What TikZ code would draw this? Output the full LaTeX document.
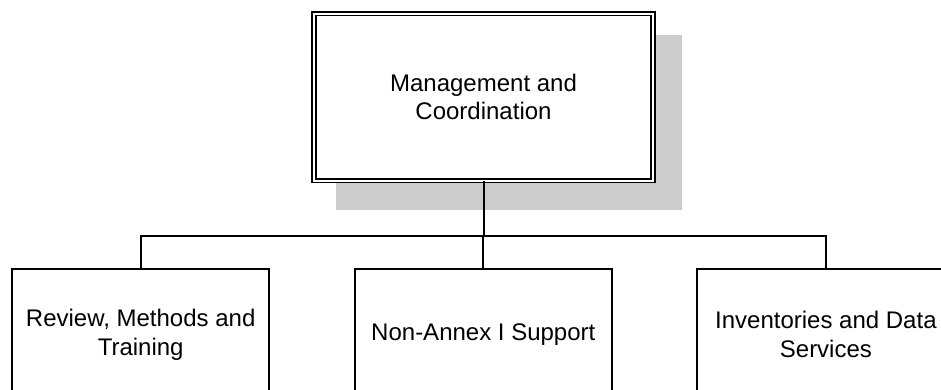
\documentclass[tikz,border=0pt]{standalone}
\usepackage{fontspec}
\setmainfont{Liberation Sans}
\usetikzlibrary{calc,backgrounds}
\begin{document}
\begin{tikzpicture}[x=1pt,y=-1pt,
  lbl/.style={font=\fontsize{24}{28.8}\selectfont, align=center},
  unitbox/.style={lbl, draw, line width=2pt, fill=white, inner sep=0pt,
    minimum width=257pt, minimum height=131pt},
  headbox/.style={lbl, draw, line width=1.8pt, double, double distance=2pt,
    fill=white, inner sep=0pt, minimum width=339pt, minimum height=167pt},
  shade/.style={fill=black!20, draw=none},
  link/.style={line width=2pt}]
\useasboundingbox (0,0) rectangle (941,389);
\clip (0,0) rectangle (941,389);

% head unit, with its offset shadow behind it
\node[headbox] (head) at (483.5,97) {Management and\\Coordination};
\begin{scope}[on background layer]
  \fill[shade] ($(head.north west)+(23,22.5)$) rectangle ($(head.south east)+(28.5,29)$);
\end{scope}

% the three units below
\node[unitbox] (rmt) at (140.7,334.5) {Review, Methods and\\Training};
\node[unitbox] (nas) at (483.3,334.5) {Non-Annex I Support};
\node[unitbox] (ids) at (825.9,334.5) {Inventories and Data\\Services};

% branching connectors
\coordinate (bus) at (head.south |- 0,235.7);
\draw[link] (head.south) -- (bus);
\draw[link] (rmt.north) |- (bus) -| (ids.north);
\draw[link] (bus -| nas.north) -- (nas.north);
\end{tikzpicture}
\end{document}
